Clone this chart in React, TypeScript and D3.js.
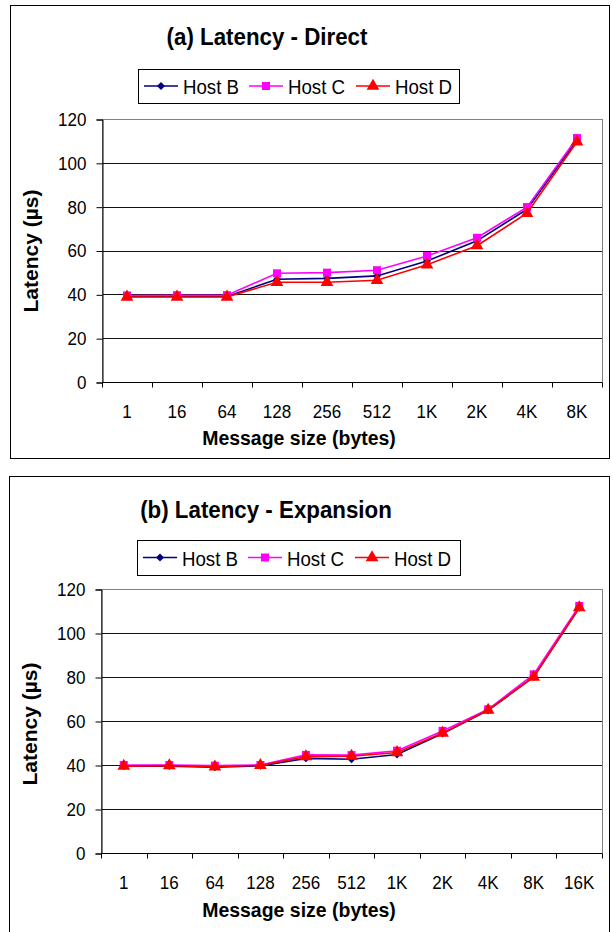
import React, { useEffect, useRef } from "react";
import * as d3 from "d3";

// message sizes on the x axis
const sizesDirect = ["1", "16", "64", "128", "256", "512", "1K", "2K", "4K", "8K"];
const sizesExpansion = ["1", "16", "64", "128", "256", "512", "1K", "2K", "4K", "8K", "16K"];

// latency in microseconds
const directHostB = [39, 39, 39, 46.9, 47.3, 48.4, 55.2, 64.4, 78.8, 110.4];
const directHostC = [39.5, 39.6, 39.6, 49.6, 49.9, 51, 57.5, 65.8, 79.8, 111.3];
const directHostD = [38.8, 38.8, 38.8, 45.5, 45.5, 46.4, 53.5, 62.2, 77, 109.6];

const expansionHostB = [39.5, 39.5, 39, 39.6, 43, 42.6, 44.8, 54.3, 64.8, 80, 111.5];
const expansionHostC = [40, 40, 39.7, 40, 44.6, 44.5, 46.5, 55.5, 65.3, 81.2, 112.3];
const expansionHostD = [39.5, 39.7, 39.2, 39.8, 43.8, 44, 45.7, 54.5, 65, 80, 111.5];

const yTicks = [0, 20, 40, 60, 80, 100, 120];
const hostNames = ["Host B", "Host C", "Host D"];
const hostColors = ["#000080", "#ff00ff", "#ff0000"];
const hostSymbols = [d3.symbolDiamond2, d3.symbolSquare, d3.symbolTriangle];
const symbolSizes = [40, 64, 70];

const FONT = "'Liberation Sans', Arial, sans-serif";
// the original text is a little narrow for its height, so squeeze it sideways
const TICK_SX = 0.92;

function drawPanel(svg, p) {
  const g = svg.append("g");

  // panel frame
  g.append("rect")
    .attr("x", p.frame[0] + 0.5).attr("y", p.frame[1] + 0.5)
    .attr("width", p.frame[2]).attr("height", p.frame[3])
    .attr("fill", "white").attr("stroke", "#000").attr("stroke-width", 1);

  const x = d3.scaleBand().domain(p.sizes).range([p.plot.l, p.plot.r]);
  const y = d3.scaleLinear().domain([0, 120]).range([p.plot.b, p.plot.t]);

  // grid lines
  g.selectAll(".grid")
    .data(yTicks.filter((t) => t > 0 && t < 120))
    .enter().append("line")
    .attr("x1", p.plot.l).attr("x2", p.plot.r)
    .attr("y1", (d) => Math.round(y(d)) + 0.5).attr("y2", (d) => Math.round(y(d)) + 0.5)
    .attr("stroke", "#111").attr("stroke-width", 1);

  // plot area border (grey)
  g.append("rect")
    .attr("x", p.plot.l + 0.5).attr("y", Math.round(y(120)) + 0.5)
    .attr("width", p.plot.r - p.plot.l).attr("height", Math.round(y(0)) - Math.round(y(120)))
    .attr("fill", "none").attr("stroke", "#808080");

  // y axis
  const yAxis = d3.axisLeft(y).tickValues(yTicks).tickSize(6).tickPadding(10);
  const ya = g.append("g").attr("transform", `translate(${p.plot.l + 0.5},0.5)`).call(yAxis);
  ya.select(".domain").attr("stroke", "#000");
  ya.selectAll(".tick text")
    .attr("x", -16 / TICK_SX)
    .attr("transform", `scale(${TICK_SX},1)`)
    .style("font-family", FONT).style("font-size", "18.5px").attr("fill", "#000");

  // x axis: labels at band centres, ticks on band edges
  const xAxis = d3.axisBottom(x).tickSize(0).tickPadding(22);
  const xa = g.append("g").attr("transform", `translate(0,${Math.round(y(0)) + 0.5})`).call(xAxis);
  xa.select(".domain").attr("d", `M${p.plot.l},0H${p.plot.r}`).attr("stroke", "#000");
  xa.selectAll(".tick text")
    .attr("transform", `scale(${TICK_SX},1)`)
    .style("font-family", FONT).style("font-size", "18.5px").attr("fill", "#000");
  const edges = p.sizes.map((s) => x(s)).concat([x.range()[1]]);
  xa.selectAll(".edge")
    .data(edges)
    .enter().append("line")
    .attr("x1", (d) => Math.round(d) + 0.5).attr("x2", (d) => Math.round(d) + 0.5)
    .attr("y1", 0).attr("y2", 5)
    .attr("stroke", "#000");

  // series
  const line = d3.line().x((d, i) => x(p.sizes[i]) + x.bandwidth() / 2).y((d) => y(d));
  p.series.forEach((vals, k) => {
    g.append("path")
      .datum(vals)
      .attr("d", line)
      .attr("fill", "none")
      .attr("stroke", hostColors[k])
      .attr("stroke-width", 1.6);
    g.selectAll(".m" + k)
      .data(vals)
      .enter().append("path")
      .attr("d", d3.symbol().type(hostSymbols[k]).size(symbolSizes[k]))
      .attr("transform", (d, i) => `translate(${x(p.sizes[i]) + x.bandwidth() / 2},${y(d)})`)
      .attr("fill", hostColors[k]);
  });

  // title
  g.append("text")
    .text(p.title)
    .attr("transform", `translate(${p.titleX},${p.titleY}) scale(0.95,1)`)
    .attr("text-anchor", "middle")
    .style("font-family", FONT).style("font-weight", "bold").style("font-size", "23.5px");

  // legend
  const lg = g.append("g");
  lg.append("rect")
    .attr("x", p.legend[0] + 0.5).attr("y", p.legend[1] + 0.5)
    .attr("width", p.legend[2]).attr("height", p.legend[3])
    .attr("fill", "white").attr("stroke", "#000");
  const midY = p.legend[1] + p.legend[3] / 2;
  const itemX = [p.legend[0] + 6, p.legend[0] + 111, p.legend[0] + 218];
  hostNames.forEach((name, k) => {
    lg.append("line")
      .attr("x1", itemX[k]).attr("x2", itemX[k] + 34)
      .attr("y1", midY).attr("y2", midY)
      .attr("stroke", hostColors[k]).attr("stroke-width", 1.4);
    lg.append("path")
      .attr("d", d3.symbol().type(hostSymbols[k]).size(symbolSizes[k])())
      .attr("transform", `translate(${itemX[k] + 17},${midY})`)
      .attr("fill", hostColors[k]);
    lg.append("text")
      .text(name)
      .attr("transform", `translate(${itemX[k] + 39},${midY + 8}) scale(0.89,1)`)
      .style("font-family", FONT).style("font-size", "21px");
  });

  // axis titles
  g.append("text")
    .text("Latency (µs)")
    .attr("transform", `translate(${p.yTitle[0]},${p.yTitle[1]}) rotate(-90)`)
    .attr("text-anchor", "middle")
    .style("font-family", FONT).style("font-weight", "bold").style("font-size", "21px");

  g.append("text")
    .text("Message size (bytes)")
    .attr("transform", `translate(${p.xTitle[0]},${p.xTitle[1]}) scale(0.95,1)`)
    .attr("text-anchor", "middle")
    .style("font-family", FONT).style("font-weight", "bold").style("font-size", "20.5px");
}

export default function App() {
  const ref = useRef(null);

  useEffect(() => {
    const svg = d3.select(ref.current);
    svg.selectAll("*").remove();

    drawPanel(svg, {
      frame: [10, 5, 599, 453],
      sizes: sizesDirect,
      series: [directHostB, directHostC, directHostD],
      plot: { l: 102, r: 602, t: 119, b: 382 },
      title: "(a) Latency - Direct",
      titleX: 267, titleY: 45,
      legend: [138, 69, 321, 34],
      yTitle: [38, 251],
      xTitle: [299, 445],
    });

    drawPanel(svg, {
      frame: [9, 476, 600, 470],
      sizes: sizesExpansion,
      series: [expansionHostB, expansionHostC, expansionHostD],
      plot: { l: 101, r: 602, t: 589, b: 853 },
      title: "(b) Latency - Expansion",
      titleX: 266, titleY: 518,
      legend: [137, 540, 323, 35],
      yTitle: [37, 724],
      xTitle: [299, 917],
    });
  }, []);

  return (
    <div style={{ position: "absolute", left: 0, top: 0 }}>
      <svg ref={ref} width={613} height={932} style={{ display: "block", background: "white" }} />
    </div>
  );
}
